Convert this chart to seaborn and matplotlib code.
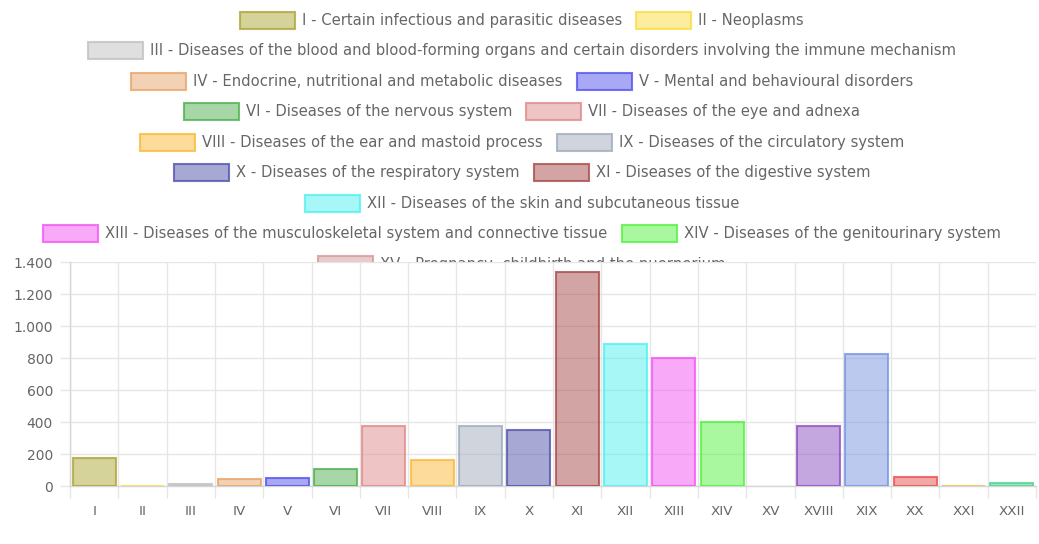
import numpy as np
import pandas as pd
import matplotlib
matplotlib.use("Agg")
import matplotlib.pyplot as plt
import seaborn as sns
from matplotlib.patches import Rectangle
from matplotlib.ticker import FixedLocator, MultipleLocator, FuncFormatter
from matplotlib.colors import to_rgb

# ---------------- data ----------------
categories = ["I", "II", "III", "IV", "V", "VI", "VII", "VIII", "IX", "X",
              "XI", "XII", "XIII", "XIV", "XV", "XVIII", "XIX", "XX", "XXI", "XXII"]
values = [175, 2, 10, 45, 50, 107, 375, 162, 375, 348,
          1340, 885, 802, 398, 0, 377, 823, 54, 3, 17]
legend_labels = [
    "I - Certain infectious and parasitic diseases",
    "II - Neoplasms",
    "III - Diseases of the blood and blood-forming organs and certain disorders involving the immune mechanism",
    "IV - Endocrine, nutritional and metabolic diseases",
    "V - Mental and behavioural disorders",
    "VI - Diseases of the nervous system",
    "VII - Diseases of the eye and adnexa",
    "VIII - Diseases of the ear and mastoid process",
    "IX - Diseases of the circulatory system",
    "X - Diseases of the respiratory system",
    "XI - Diseases of the digestive system",
    "XII - Diseases of the skin and subcutaneous tissue",
    "XIII - Diseases of the musculoskeletal system and connective tissue",
    "XIV - Diseases of the genitourinary system",
    "XV - Pregnancy, childbirth and the puerperium",
]
base_colors = ["#ada737", "#fbdd41", "#c1c1c1", "#e7a56b", "#5353eb",
               "#51b151", "#df8b8b", "#fbb939", "#a1abbd", "#5353ad",
               "#a94b4b", "#51f1f1", "#f355f3", "#55f141", "#d39999",
               "#8d51c1", "#7995e1", "#e95151", "#ebc141", "#51d191"]
legend_rows = [[0, 1], [2], [3, 4], [5, 6], [7, 8], [9, 10], [11], [12, 13], [14]]

# ---------------- style ----------------
sns.set_theme(style="white")
plt.rcParams['font.family'] = ['DejaVu Sans']
TXT = "#666666"
GRID = "#e6e6e6"
FILL_A = 0.5
EDGE_A = 0.8

W, H = 1039, 544
fig = plt.figure(figsize=(W / 100, H / 100), dpi=100)
fig.patch.set_facecolor("white")

ax_l, ax_r, ax_t, ax_b = 70, 1036, 262, 486
ax = fig.add_axes([ax_l / W, 1 - ax_b / H, (ax_r - ax_l) / W, (ax_b - ax_t) / H])
ax.set_facecolor("white")

df = pd.DataFrame({"cat": categories, "val": values})
pal = {c: to_rgb(col) for c, col in zip(categories, base_colors)}
sns.barplot(data=df, x="cat", y="val", hue="cat", order=categories, hue_order=categories,
            palette=pal, legend=False, dodge=False, width=0.89, saturation=1, ax=ax)

for p in ax.patches:
    idx = int(round(p.get_x() + p.get_width() / 2))
    r, g, b = to_rgb(base_colors[idx])
    p.set_facecolor((r, g, b, FILL_A))
    p.set_edgecolor((r, g, b, EDGE_A))
    p.set_linewidth(1.5 if p.get_height() > 0 else 0)
    p.set_zorder(3)

ax.set_xlim(-0.5, len(categories) - 0.5)
ax.set_ylim(0, 1400)
ax.yaxis.set_major_locator(MultipleLocator(200))
ax.yaxis.set_major_formatter(FuncFormatter(lambda v, _: f"{int(v):,}".replace(",", ".")))
ax.xaxis.set_minor_locator(FixedLocator(np.arange(-0.5, len(categories), 1)))
ax.set_axisbelow(True)
ax.grid(False)
ax.grid(axis="y", which="major", color=GRID, lw=1)
ax.grid(axis="x", which="minor", color=GRID, lw=1)
ax.set_xlabel("")
ax.set_ylabel("")

ax.tick_params(axis="x", which="major", length=0, pad=13.5, labelsize=9.7, labelcolor=TXT)
ax.tick_params(axis="x", which="minor", length=8.6, width=1, color=GRID, bottom=True)
ax.tick_params(axis="y", which="major", length=7.2, width=1, color=GRID, pad=5,
               labelsize=10, labelcolor=TXT, left=True)

for s in ["top", "right"]:
    ax.spines[s].set_visible(False)
for s in ["left", "bottom"]:
    ax.spines[s].set_color("#d6d6d6")
    ax.spines[s].set_linewidth(1)

# ---------------- legend (chart.js style, centered rows) ----------------
renderer = fig.canvas.get_renderer()
box_w, box_h, gap, item_gap = 55, 17, 7, 14
center_x, row0, dy = 522, 20, 30.5
LFS = 10.6

for ri, row in enumerate(legend_rows):
    yc = row0 + ri * dy
    texts, widths = [], []
    for i in row:
        t = fig.text(0, 0, legend_labels[i], fontsize=LFS, color=TXT, ha="left", va="center",
                     zorder=-1)
        texts.append(t)
        widths.append(t.get_window_extent(renderer).width)
    total = sum(box_w + gap + w for w in widths) + item_gap * (len(row) - 1)
    x = center_x - total / 2
    for i, t, w in zip(row, texts, widths):
        r, g, b = to_rgb(base_colors[i])
        rect = Rectangle((x / W, 1 - (yc + box_h / 2) / H), box_w / W, box_h / H,
                         transform=fig.transFigure, facecolor=(r, g, b, FILL_A),
                         edgecolor=(r, g, b, EDGE_A), lw=1.5, zorder=-1)
        fig.add_artist(rect)
        t.set_position(((x + box_w + gap) / W, 1 - yc / H))
        x += box_w + gap + w + item_gap

fig.savefig("out.png", dpi=100, facecolor="white")
